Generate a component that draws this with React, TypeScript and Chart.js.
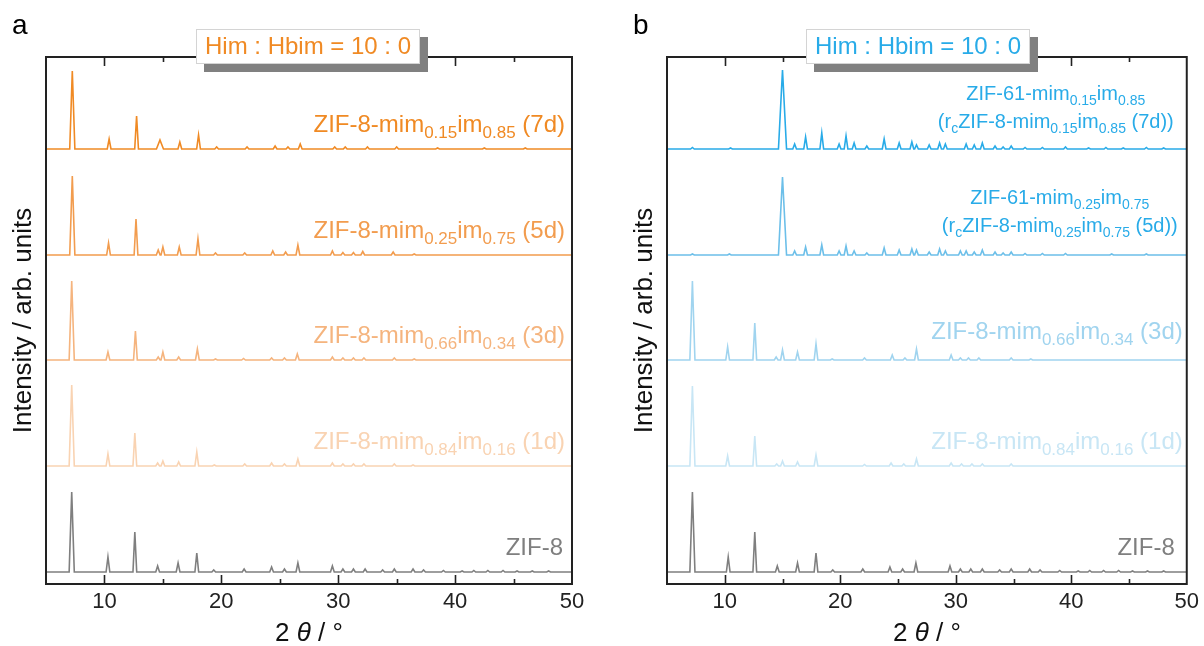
import React, { useEffect, useRef } from "react";
import { Chart, registerables } from "chart.js";
Chart.register(...registerables);

const FAM = '"Liberation Sans", Arial, Helvetica, sans-serif';

const X_MIN = 5;
const X_MAX = 50;
const X_MAJOR = [10, 20, 30, 40, 50];
const X_MINOR = [15, 25, 35, 45];
const Y_MAX = 527;
// vertical stacking offsets (arb. units): ZIF-8, 1d, 3d, 5d, 7d
const OFFSETS = [12, 118, 224, 329, 435];

// peaks: [2θ (°), intensity (arb.), optional half-width]
const ZIF8_PEAKS = [[7.2, 80], [10.3, 15], [12.6, 40], [14.55, 6], [16.3, 9], [17.9, 19], [19.35, 2], [21.95, 3], [24.3, 5], [25.4, 3], [26.55, 9], [29.5, 6], [30.4, 3], [31.3, 3], [32.3, 3], [33.8, 2], [34.8, 3], [36.4, 3], [37.3, 2], [39.0, 1.5], [40.6, 1], [41.6, 1.5], [42.8, 1.5], [44.1, 1.5], [45.3, 1], [46.6, 1], [48.0, 1]];
const A_1D_PEAKS = [[7.2, 81], [10.3, 12], [12.6, 33], [14.55, 3], [15.0, 5], [16.35, 4], [17.9, 14], [19.4, 1], [22.0, 2], [24.3, 3], [25.4, 2], [26.55, 7], [29.5, 3], [30.4, 2], [31.3, 2], [32.2, 2], [34.8, 2], [36.4, 1]];
const A_3D_PEAKS = [[7.2, 79], [10.3, 8], [12.65, 29], [14.6, 3], [15.0, 8], [16.35, 3], [17.95, 11], [19.5, 1], [21.9, 1.5], [24.3, 2], [25.4, 2], [26.5, 6], [29.5, 3], [30.4, 2], [31.3, 2], [32.2, 2], [34.8, 2], [36.5, 1]];
const A_5D_PEAKS = [[7.25, 79], [10.35, 12], [12.7, 36], [14.6, 5], [15.0, 8], [16.4, 8], [18.0, 16], [19.5, 2], [22.0, 2], [24.4, 4], [25.5, 3], [26.55, 10], [29.5, 4], [30.4, 2.5], [31.3, 2.5], [32.1, 3.5], [34.7, 3], [36.5, 1]];
const A_7D_PEAKS = [[7.25, 78], [10.4, 10], [12.75, 33], [14.75, 9, 0.3], [16.45, 7], [18.05, 14], [19.6, 2], [22.2, 2], [24.6, 3], [25.7, 2], [26.75, 5], [29.7, 2], [30.6, 2], [32.5, 2], [35.0, 2], [38.5, 1], [42.5, 1], [46.0, 1]];

const B_1D_PEAKS = [[7.2, 80], [10.25, 10], [12.6, 30], [14.5, 2], [15.0, 5], [16.3, 4], [17.9, 11], [22.1, 1.5], [24.4, 3], [25.5, 2], [26.6, 7], [29.6, 3], [30.5, 2], [31.4, 2], [32.3, 2], [34.8, 2]];
const B_3D_PEAKS = [[7.2, 79], [10.25, 13], [12.6, 37], [14.45, 3], [15.0, 10], [16.3, 8], [17.9, 16], [19.3, 1], [22.1, 2], [24.5, 5], [25.6, 2], [26.6, 11], [29.6, 5], [30.4, 2], [31.1, 2], [32.0, 2], [34.8, 2], [36.5, 1]];
const B_5D_PEAKS = [[7.2, 1], [10.4, 1], [15.0, 78, 0.35], [16.05, 4], [17.0, 8], [18.4, 10], [19.9, 4], [20.5, 9], [21.2, 4], [22.3, 2], [23.8, 7], [25.1, 5], [26.2, 6], [26.6, 5], [27.7, 3], [28.6, 6], [29.1, 4], [30.4, 4], [30.9, 4], [31.6, 3], [32.3, 5], [33.4, 3], [34.1, 2], [34.8, 3], [36.0, 1.5], [37.5, 1.5], [39.5, 1.5], [43.5, 1], [46.5, 1]];
const B_7D_PEAKS = [[7.2, 1.5], [10.5, 1], [15.0, 79, 0.35], [16.05, 5], [17.0, 12], [18.4, 16], [19.9, 5], [20.5, 13], [21.2, 6], [22.3, 3], [23.8, 10], [25.1, 6], [26.2, 7], [26.6, 4], [27.7, 4], [28.6, 6], [29.1, 5], [30.9, 5], [31.6, 4], [32.3, 6], [33.4, 3], [34.1, 2], [34.8, 3], [36.0, 1.5], [37.5, 1.5], [39.5, 2], [41.5, 1], [43.0, 1.5], [44.5, 1], [46.5, 1.5], [48.0, 1]];

const GRAY = "#7f7f7f";
const A_COLORS = ["#f08a24", "#f29c4e", "#f5b47e", "#f9d3b2"]; // 7d,5d,3d,1d
const B_COLORS = ["#28abe8", "#6cbfe9", "#a0d4ef", "#c8e6f5"];

type Seg = [string, boolean?];

function mimLabel(a: string, b: string, suffix: string): Seg[] {
  return [["ZIF-8-mim"], [a, true], ["im"], [b, true], [suffix]];
}

function buildPoints(peaks: number[][], offset: number) {
  const pts: { x: number; y: number }[] = [{ x: X_MIN, y: offset }];
  for (const pk of peaks) {
    const [p, h] = pk;
    const w = pk[2] ?? (h >= 50 ? 0.22 : 0.16);
    pts.push({ x: p - w, y: offset }, { x: p, y: offset + h }, { x: p + w, y: offset });
  }
  pts.push({ x: X_MAX, y: offset });
  return pts;
}

function drawRich(ctx: CanvasRenderingContext2D, segs: Seg[], x: number, y: number, align: string, size: number, sub: number, color: string) {
  let total = 0;
  const widths: number[] = [];
  for (const [t, s] of segs) {
    ctx.font = `${s ? sub : size}px ${FAM}`;
    const w = ctx.measureText(t).width;
    widths.push(w);
    total += w;
  }
  let cx = align === "right" ? x - total : align === "center" ? x - total / 2 : x;
  ctx.fillStyle = color;
  ctx.textAlign = "left";
  ctx.textBaseline = "alphabetic";
  segs.forEach(([t, s], i) => {
    ctx.font = `${s ? sub : size}px ${FAM}`;
    ctx.fillText(t, cx, s ? y + size * 0.27 : y);
    cx += widths[i];
  });
}

interface LabelSpec { lines: Seg[][]; color: string; align: string; dx: number; dys: number[]; size: number; sub: number; offset: number; }

interface PanelCfg {
  letter: string; letterX: number; titleColor: string; boxX: number;
  padLeft: number; padRight: number; yTitleX: number;
  series: { peaks: number[][]; color: string; offset: number }[];
  labels: LabelSpec[];
}

const PANEL_A: PanelCfg = {
  letter: "a", letterX: 12, titleColor: A_COLORS[0], boxX: 196,
  padLeft: 46, padRight: 30, yTitleX: 24,
  series: [
    { peaks: ZIF8_PEAKS, color: GRAY, offset: OFFSETS[0] },
    { peaks: A_1D_PEAKS, color: A_COLORS[3], offset: OFFSETS[1] },
    { peaks: A_3D_PEAKS, color: A_COLORS[2], offset: OFFSETS[2] },
    { peaks: A_5D_PEAKS, color: A_COLORS[1], offset: OFFSETS[3] },
    { peaks: A_7D_PEAKS, color: A_COLORS[0], offset: OFFSETS[4] },
  ],
  labels: [
    { lines: [mimLabel("0.15", "0.85", " (7d)")], color: A_COLORS[0], align: "right", dx: -7, dys: [-17], size: 24, sub: 17, offset: OFFSETS[4] },
    { lines: [mimLabel("0.25", "0.75", " (5d)")], color: A_COLORS[1], align: "right", dx: -7, dys: [-17], size: 24, sub: 17, offset: OFFSETS[3] },
    { lines: [mimLabel("0.66", "0.34", " (3d)")], color: A_COLORS[2], align: "right", dx: -7, dys: [-17], size: 24, sub: 17, offset: OFFSETS[2] },
    { lines: [mimLabel("0.84", "0.16", " (1d)")], color: A_COLORS[3], align: "right", dx: -7, dys: [-17], size: 24, sub: 17, offset: OFFSETS[1] },
    { lines: [[["ZIF-8"]]], color: GRAY, align: "right", dx: -9, dys: [-17], size: 24, sub: 17, offset: OFFSETS[0] },
  ],
};

const PANEL_B: PanelCfg = {
  letter: "b", letterX: 31, titleColor: B_COLORS[0], boxX: 204,
  padLeft: 65, padRight: 15, yTitleX: 43,
  series: [
    { peaks: ZIF8_PEAKS, color: GRAY, offset: OFFSETS[0] },
    { peaks: B_1D_PEAKS, color: B_COLORS[3], offset: OFFSETS[1] },
    { peaks: B_3D_PEAKS, color: B_COLORS[2], offset: OFFSETS[2] },
    { peaks: B_5D_PEAKS, color: B_COLORS[1], offset: OFFSETS[3] },
    { peaks: B_7D_PEAKS, color: B_COLORS[0], offset: OFFSETS[4] },
  ],
  labels: [
    {
      lines: [
        [["ZIF-61-mim"], ["0.15", true], ["im"], ["0.85", true]],
        [["(r"], ["c", true], ["ZIF-8-mim"], ["0.15", true], ["im"], ["0.85", true], [" (7d))"]],
      ],
      color: B_COLORS[0], align: "center", dx: -131, dys: [-49, -21], size: 20, sub: 14, offset: OFFSETS[4],
    },
    {
      lines: [
        [["ZIF-61-mim"], ["0.25", true], ["im"], ["0.75", true]],
        [["(r"], ["c", true], ["ZIF-8-mim"], ["0.25", true], ["im"], ["0.75", true], [" (5d))"]],
      ],
      color: B_COLORS[0], align: "center", dx: -127, dys: [-51, -23], size: 20, sub: 14, offset: OFFSETS[3],
    },
    { lines: [mimLabel("0.66", "0.34", " (3d)")], color: B_COLORS[2], align: "right", dx: -4, dys: [-21], size: 24, sub: 17, offset: OFFSETS[2] },
    { lines: [mimLabel("0.84", "0.16", " (1d)")], color: B_COLORS[3], align: "right", dx: -4, dys: [-17], size: 24, sub: 17, offset: OFFSETS[1] },
    { lines: [[["ZIF-8"]]], color: GRAY, align: "right", dx: -12, dys: [-17], size: 24, sub: 17, offset: OFFSETS[0] },
  ],
};

function makePlugin(cfg: PanelCfg) {
  return {
    id: "decor",
    afterDraw(chart: any) {
      const { ctx, chartArea: a, scales } = chart;
      const xs = scales.x;
      const ys = scales.y;
      ctx.save();
      // frame
      ctx.strokeStyle = "#222";
      ctx.lineWidth = 2;
      ctx.strokeRect(a.left, a.top, a.right - a.left, a.bottom - a.top);
      // inward ticks, bottom and top
      ctx.lineWidth = 1.6;
      ctx.beginPath();
      for (const v of X_MAJOR) {
        if (v >= X_MAX) continue;
        const px = Math.round(xs.getPixelForValue(v)) + 0.5;
        ctx.moveTo(px, a.bottom); ctx.lineTo(px, a.bottom - 9);
        ctx.moveTo(px, a.top); ctx.lineTo(px, a.top + 9);
      }
      for (const v of X_MINOR) {
        const px = Math.round(xs.getPixelForValue(v)) + 0.5;
        ctx.moveTo(px, a.bottom); ctx.lineTo(px, a.bottom - 5);
        ctx.moveTo(px, a.top); ctx.lineTo(px, a.top + 5);
      }
      ctx.stroke();

      // labels
      for (const lb of cfg.labels) {
        const base = ys.getPixelForValue(lb.offset);
        const x = a.right + lb.dx;
        lb.lines.forEach((segs, i) => {
          drawRich(ctx, segs, x, base + lb.dys[i], lb.align, lb.size, lb.sub, lb.color);
        });
      }

      // title box with shadow
      const bx = cfg.boxX, by = 29, bw = 224, bh = 35;
      ctx.fillStyle = "#808080";
      ctx.fillRect(bx + 8, by + 8, bw, bh);
      ctx.fillStyle = "#fff";
      ctx.fillRect(bx, by, bw, bh);
      ctx.strokeStyle = "#d4d4d4";
      ctx.lineWidth = 1;
      ctx.strokeRect(bx + 0.5, by + 0.5, bw - 1, bh - 1);
      ctx.font = `24px ${FAM}`;
      ctx.fillStyle = cfg.titleColor;
      ctx.textAlign = "center";
      ctx.textBaseline = "middle";
      ctx.fillText("Him : Hbim = 10 : 0", bx + bw / 2, by + bh / 2 + 1);

      // panel letter
      ctx.fillStyle = "#000";
      ctx.textAlign = "left";
      ctx.textBaseline = "alphabetic";
      ctx.font = `28px ${FAM}`;
      ctx.fillText(cfg.letter, cfg.letterX, 34);

      // y title
      ctx.save();
      ctx.translate(cfg.yTitleX, (a.top + a.bottom) / 2);
      ctx.rotate(-Math.PI / 2);
      ctx.font = `26px ${FAM}`;
      ctx.fillStyle = "#111";
      ctx.textAlign = "center";
      ctx.textBaseline = "middle";
      ctx.fillText("Intensity / arb. units", 0, 0);
      ctx.restore();

      // x title: 2 θ / °
      const segs: [string, string][] = [["2 ", "normal"], ["θ", "italic"], [" / °", "normal"]];
      let tw = 0;
      const ws: number[] = [];
      for (const [t, st] of segs) {
        ctx.font = `${st} 26px ${FAM}`;
        const w = ctx.measureText(t).width;
        ws.push(w); tw += w;
      }
      let cx = (a.left + a.right) / 2 - tw / 2;
      ctx.fillStyle = "#111";
      ctx.textAlign = "left";
      segs.forEach(([t, st], i) => {
        ctx.font = `${st} 26px ${FAM}`;
        ctx.fillText(t, cx, 641);
        cx += ws[i];
      });
      ctx.restore();
    },
  };
}

function Panel({ cfg, left }: { cfg: PanelCfg; left: number }) {
  const ref = useRef<HTMLCanvasElement>(null);
  useEffect(() => {
    const chart = new Chart(ref.current as HTMLCanvasElement, {
      type: "line",
      data: {
        datasets: cfg.series.map((s) => ({
          data: buildPoints(s.peaks, s.offset),
          borderColor: s.color,
          borderWidth: 1.6,
          pointRadius: 0,
          tension: 0,
          fill: false,
        })),
      },
      options: {
        animation: false,
        responsive: false,
        devicePixelRatio: 1,
        layout: { padding: { left: cfg.padLeft, right: cfg.padRight, top: 57, bottom: 0 } },
        plugins: { legend: { display: false }, tooltip: { enabled: false } },
        scales: {
          x: {
            type: "linear",
            min: X_MIN,
            max: X_MAX,
            afterBuildTicks: (s: any) => { s.ticks = X_MAJOR.map((v) => ({ value: v })); },
            afterFit: (s: any) => { s.height = 62; },
            grid: { display: false, drawTicks: false },
            border: { display: false },
            ticks: { font: { size: 22, family: FAM }, color: "#222", padding: 5, maxRotation: 0, autoSkip: false },
          },
          y: { display: false, min: 0, max: Y_MAX },
        },
      } as any,
      plugins: [makePlugin(cfg)],
    });
    return () => chart.destroy();
  }, []);
  return <canvas ref={ref} width={602} height={646} style={{ position: "absolute", left, top: 0, width: 602, height: 646 }} />;
}

export default function App() {
  return (
    <div style={{ position: "absolute", left: 0, top: 0, width: 1204, height: 646, background: "#fff" }}>
      <Panel cfg={PANEL_A} left={0} />
      <Panel cfg={PANEL_B} left={602} />
    </div>
  );
}
